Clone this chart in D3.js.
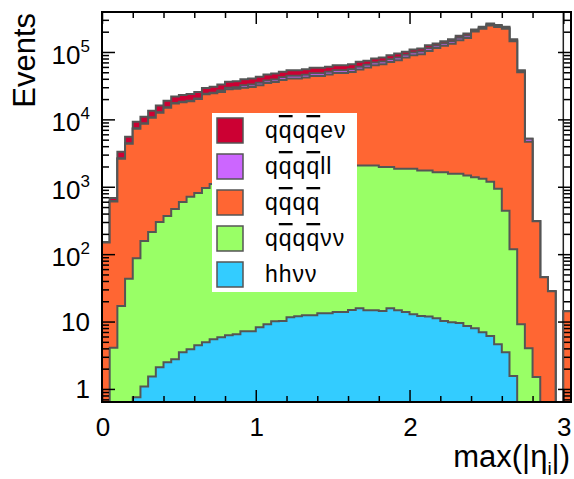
<!DOCTYPE html>
<html><head><meta charset="utf-8">
<script src="https://cdn.jsdelivr.net/npm/d3@7"></script>
<style>
body{margin:0;background:#fff}
svg{display:block;font-family:"Liberation Sans",Arial,Helvetica,sans-serif}
</style>
</head><body>
<svg id="chart" width="574" height="479"></svg>
<script>
// ---- data ----
const binWidth = 0.05;
const nBins = 61;                       // bins from 0 to 3.05
const xTickLabels = ["0", "1", "2", "3"];
const xTickValues = [0, 1, 2, 3];
const yTickValues = [1, 10, 100, 1000, 10000, 100000];
const yTickBase = ["1", "10", "10", "10", "10", "10"];
const yTickExp  = ["", "", "2", "3", "4", "5"];

const seriesNames  = ["hh\u03bd\u03bd", "qq\u0305qq\u0305\u03bd\u03bd", "qq\u0305qq\u0305", "qq\u0305qq\u0305ll", "qq\u0305qq\u0305e\u03bd"];
const seriesColors = ["#33ccff", "#99ff66", "#ff6633", "#cc66ff", "#cc0033"];

const hhvv = [0,0,0,0,0.75,1.09,1.53,2.09,2.48,2.75,3.49,3.87,4.44,4.92,5.45,5.84,6.25,6.46,7.2,7.2,8.2,9.1,10.1,
  10.2,11.6,12.0,12.4,12.4,13.3,13.3,13.9,13.9,14.9,15.8,14.7,14.7,14.4,15.8,14.7,13.9,12.8,12.1,11.9,11.2,10.2,9.77,9.5,8.6,7.94,6.93,6.1,4.59,3.49,1.55,
  0,0,0,0,0,0,0];
const qqqqvv = [0,4.1,17,43,86,155,211,298,367,467,591,706,805,955,1094,1224,1344,1453,1553,1643,1722,1791,1850,1900,1938,1978,2008,2028,2042,2052,2056,2056,2055,2051,2052,2052,1944,1942,1832,1833,1834,1730,1730,1637,1638,1546,1546,1459,1382,1305,1177,926,439,117,9.1,4,1.5,0,0,0,0];
const qqqq = [149.5,601,2581,4306,7187,8471,10380,12282,14548,16658,17429,17936,19298,22538,23222,24188,26554,27001,27896,28546,30261,32810,33948,36357,38474,38434,39823,41877,41862,44111,46704,46704,48360,52692,56557,61353,63697,69048,73502,80810,87541,90765,101847,112988,122505,131343,147805,160069,200358,219940,246570,232918,220809,144520,49989,4650,306.5,45.6,28.2,0,14.2];
const qqqqll = [0,10.5,45,75,126,149,183,218,258,296,312,322,348,406,421,1338,1469,1498,2631,2697,2858,3092,3198,3831,4047,4047,4189,4397,4397,4623,4883,4883,5048,5482,5869,6349,6573,7108,7543,8275,8949,9261,10370,10240,11090,11871,13342,14429,7101,7787,8720,8231,7787,5091,1760,506,3,0,0,0,0];
const qqqqev = [1.5,68,661,1106,1850,2194,2694,3200,3794,4356,4584,4742,5114,5426,5617,6074,6667,6801,7283,7467,7911,8558,8854,8622,9109,9109,9428,9896,9896,9461,9993,9993,10332,11219,9467,10241,10602,11466,12168,9768,10563,10932,12241,8824,9557,10230,11497,12434,7351,8061,9027,8520,8061,5270,1822,0,0,0,0,0,0];

const seriesValues = [hhvv, qqqqvv, qqqq, qqqqll, qqqqev];

// ---- layout ----
const fr = {l: 102, r: 571, t: 12, b: 402};
const yMin = 0.64, yMax = 3.92e5;

const svg = d3.select("#chart");
const x = d3.scaleLinear().domain([0, nBins * binWidth]).range([fr.l, fr.r]);
const y = d3.scaleLog().domain([yMin, yMax]).range([fr.b, fr.t]);
const yv = v => (v <= yMin ? fr.b + 4 : Math.max(fr.t - 4, y(v)));

const keys = seriesNames.map((d, i) => "s" + i);
const rows = d3.range(nBins).map(i => {
  const r = {};
  keys.forEach((k, j) => r[k] = seriesValues[j][i]);
  return r;
});
const stacked = d3.stack().keys(keys)(rows);

svg.append("defs").append("clipPath").attr("id", "fclip")
  .append("rect").attr("x", fr.l).attr("y", fr.t).attr("width", fr.r - fr.l).attr("height", fr.b - fr.t);

// axis-end line at x = 3 (drawn beneath the histograms)
svg.append("line").attr("x1", x(3)).attr("x2", x(3)).attr("y1", fr.t).attr("y2", fr.b)
  .attr("stroke", "#222").attr("stroke-width", 1.5);

const plot = svg.append("g").attr("clip-path", "url(#fclip)");

const area = d3.area().curve(d3.curveStepAfter)
  .x(d => x(d.e)).y0(fr.b + 4).y1(d => yv(d.v));
const line = d3.line().curve(d3.curveStepAfter)
  .x(d => x(d.e)).y(d => d.y);

// draw from top layer down (THStack style: each layer is the cumulative sum)
for (let k = keys.length - 1; k >= 0; k--) {
  const layer = stacked[k];
  const pts = layer.map((d, i) => ({e: i * binWidth, v: d[1]}));
  pts.push({e: nBins * binWidth, v: layer[nBins - 1][1]});
  plot.append("path").attr("d", area(pts)).attr("fill", seriesColors[k]).attr("stroke", "none");
  const lp = [{e: 0, y: fr.b + 4}].concat(pts.map(p => ({e: p.e, y: yv(p.v)})));
  lp.push({e: nBins * binWidth, y: fr.b + 4});
  plot.append("path").attr("d", line(lp)).attr("fill", "none")
    .attr("stroke", "#555555").attr("stroke-width", 2);
}

// ---- axes (ticks) ----
const xMinor = d3.range(0, 3.05, 0.2).filter(v => Math.abs(v - Math.round(v)) > 1e-6);
const yMinor = [];
[0.1, 1, 10, 100, 1000, 10000, 100000].forEach(d => {
  for (let m = 2; m <= 9; m++) { const v = d * m; if (v > yMin && v < yMax) yMinor.push(v); }
});

function styleAxis(g) {
  g.select(".domain").remove();
  g.selectAll(".tick line").attr("stroke", "#000").attr("stroke-width", 1.5);
  g.selectAll(".tick text").remove();
}
svg.append("g").attr("transform", `translate(0,${fr.b})`).call(d3.axisBottom(x).tickValues(xTickValues).tickSize(-12)).call(styleAxis);
svg.append("g").attr("transform", `translate(0,${fr.b})`).call(d3.axisBottom(x).tickValues(xMinor).tickSize(-6)).call(styleAxis);
svg.append("g").attr("transform", `translate(0,${fr.t})`).call(d3.axisTop(x).tickValues(xTickValues).tickSize(-12)).call(styleAxis);
svg.append("g").attr("transform", `translate(0,${fr.t})`).call(d3.axisTop(x).tickValues(xMinor).tickSize(-6)).call(styleAxis);
svg.append("g").attr("transform", `translate(${fr.l},0)`).call(d3.axisLeft(y).tickValues(yTickValues).tickSize(-13)).call(styleAxis);
svg.append("g").attr("transform", `translate(${fr.l},0)`).call(d3.axisLeft(y).tickValues(yMinor).tickSize(-7)).call(styleAxis);
svg.append("g").attr("transform", `translate(${fr.r},0)`).call(d3.axisRight(y).tickValues(yTickValues).tickSize(-13)).call(styleAxis);
svg.append("g").attr("transform", `translate(${fr.r},0)`).call(d3.axisRight(y).tickValues(yMinor).tickSize(-7)).call(styleAxis);

// frame
svg.append("rect").attr("x", fr.l).attr("y", fr.t).attr("width", fr.r - fr.l).attr("height", fr.b - fr.t)
  .attr("fill", "none").attr("stroke", "#000").attr("stroke-width", 2);

// ---- tick labels ----
svg.selectAll(".xl").data(xTickValues).enter().append("text")
  .attr("x", d => x(d) + 1).attr("y", 436).attr("text-anchor", "middle")
  .attr("font-size", 26).attr("fill", "#000").text((d, i) => xTickLabels[i]);

yTickValues.forEach((v, i) => {
  const t = svg.append("text").attr("text-anchor", "end").attr("x", 90).attr("font-size", 26).attr("fill", "#000");
  if (yTickExp[i] === "") {
    t.attr("y", y(v) + 9.5).text(yTickBase[i]);
  } else {
    t.attr("y", y(v) + 12);
    t.append("tspan").text(yTickBase[i]);
    t.append("tspan").attr("dy", -12).attr("font-size", 17).text(yTickExp[i]);
  }
});

// ---- axis titles ----
svg.append("text").attr("transform", "translate(35,13) rotate(-90)").attr("text-anchor", "end")
  .attr("font-size", 31).attr("fill", "#000").text("Events");

const xt = svg.append("text").attr("x", 570).attr("y", 467).attr("text-anchor", "end")
  .attr("font-size", 31).attr("fill", "#000");
xt.append("tspan").text("max(|\u03b7");
xt.append("tspan").attr("dy", 8).attr("font-size", 19).text("i");
xt.append("tspan").attr("dy", -8).text("|)");

// ---- legend ----
const lg = {x: 212, y: 113, w: 145, h: 179};
svg.append("rect").attr("x", lg.x).attr("y", lg.y).attr("width", lg.w).attr("height", lg.h).attr("fill", "#fff");
const legendOrder = [4, 3, 2, 1, 0];
legendOrder.forEach((k, r) => {
  const ry = lg.y + 5 + r * 36;
  svg.append("rect").attr("x", lg.x + 5).attr("y", ry).attr("width", 26).attr("height", 25)
    .attr("fill", seriesColors[k]).attr("stroke", "#555555").attr("stroke-width", 1.5);
  const t = svg.append("text").attr("x", lg.x + 53).attr("y", ry + 20).attr("font-size", 23)
    .attr("letter-spacing", 1).attr("fill", "#000");
  const s = seriesNames[k];
  for (let i = 0; i < s.length; i++) {
    const c = s[i];
    if (c === "\u0305") continue;
    const over = s[i + 1] === "\u0305";
    const ts = t.append("tspan").text(c);
    if (over) ts.style("text-decoration", "overline");
  }
});
</script>
</body></html>
